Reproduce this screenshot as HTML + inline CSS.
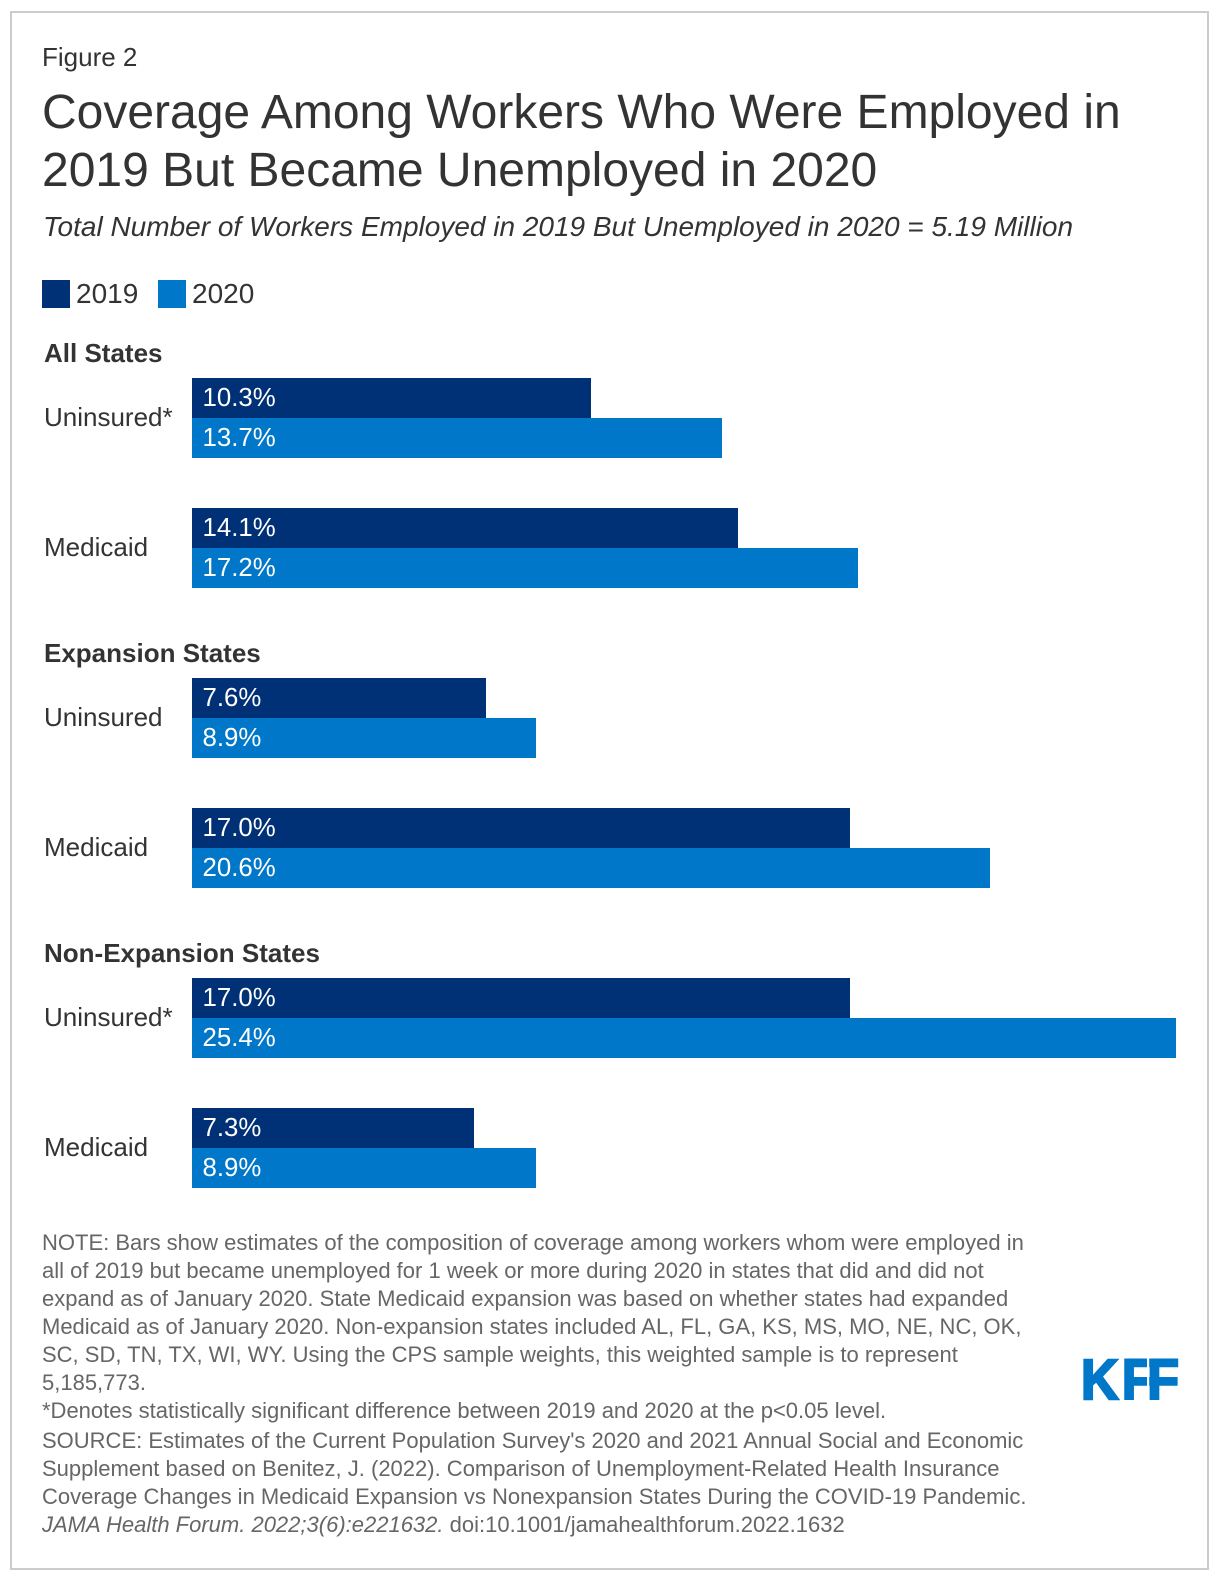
<!DOCTYPE html>
<html lang="en">
<head>
<meta charset="utf-8">
<title>Coverage Among Workers Who Were Employed in 2019 But Became Unemployed in 2020</title>
<style>
html,body{margin:0;padding:0;background:#fff;width:1220px;height:1582px;overflow:hidden}
svg{display:block}
text{font-family:"Liberation Sans",Arial,sans-serif}
.fn{font-size:22px;fill:#666}
</style>
</head>
<body>
<svg id="chart" xmlns="http://www.w3.org/2000/svg" width="1220" height="1582" viewBox="0 0 1220 1582">
  <rect x="11" y="12" width="1197" height="1557" fill="#fff" stroke="#ccc" stroke-width="2"/>
  <text x="42" y="66" font-size="26" fill="#333">Figure 2</text>
  <text x="42" y="128" font-size="48" fill="#333">Coverage Among Workers Who Were Employed in</text>
  <text x="42" y="186" font-size="48" fill="#333">2019 But Became Unemployed in 2020</text>
  <text x="43" y="236" font-size="28" font-style="italic" fill="#333">Total Number of Workers Employed in 2019 But Unemployed in 2020 = 5.19 Million</text>

  <g>
    <rect x="42" y="280" width="28" height="28" fill="#003075"/>
    <text x="76" y="303" font-size="28" fill="#333">2019</text>
    <rect x="158" y="280" width="28" height="28" fill="#0077c8"/>
    <text x="192" y="303" font-size="28" fill="#333">2020</text>
  </g>

  <g id="plot"></g>

  <g>
    <text class="fn" x="42" y="1250">NOTE: Bars show estimates of the composition of coverage among workers whom were employed in</text>
    <text class="fn" x="42" y="1278">all of 2019 but became unemployed for 1 week or more during 2020 in states that did and did not</text>
    <text class="fn" x="42" y="1306">expand as of January 2020. State Medicaid expansion was based on whether states had expanded</text>
    <text class="fn" x="42" y="1334">Medicaid as of January 2020. Non-expansion states included AL, FL, GA, KS, MS, MO, NE, NC, OK,</text>
    <text class="fn" x="42" y="1362">SC, SD, TN, TX, WI, WY. Using the CPS sample weights, this weighted sample is to represent</text>
    <text class="fn" x="42" y="1390">5,185,773.</text>
    <text class="fn" x="42" y="1418">*Denotes statistically significant difference between 2019 and 2020 at the p&lt;0.05 level.</text>
    <text class="fn" x="42" y="1448">SOURCE: Estimates of the Current Population Survey's 2020 and 2021 Annual Social and Economic</text>
    <text class="fn" x="42" y="1476">Supplement based on Benitez, J. (2022). Comparison of Unemployment-Related Health Insurance</text>
    <text class="fn" x="42" y="1504">Coverage Changes in Medicaid Expansion vs Nonexpansion States During the COVID-19 Pandemic.</text>
    <text class="fn" x="42" y="1532"><tspan font-style="italic">JAMA Health Forum. 2022;3(6):e221632.</tspan> doi:10.1001/jamahealthforum.2022.1632</text>
  </g>

  <g>
    <text transform="translate(1081 0) scale(.92 1)" x="0 44.5 72" y="1399" font-size="56.5" font-weight="bold" fill="#0077c8" stroke="#0077c8" stroke-width="2.4">KFF</text>
    <rect x="1147" y="1355" width="2.2" height="48" fill="#fff"/>
  </g>
</svg>

<script>
const groupNames = ["All States", "Expansion States", "Non-Expansion States"];
const rowNames = [
  ["Uninsured*", "Medicaid"],
  ["Uninsured", "Medicaid"],
  ["Uninsured*", "Medicaid"]
];
const values2019 = [10.3, 14.1, 7.6, 17.0, 17.0, 7.3];
const values2020 = [13.7, 17.2, 8.9, 20.6, 25.4, 8.9];

const plotLeft = 192;
const pxPerPercent = 38.75;
const barHeight = 40;
const firstBarTop = 378;
const groupStep = 300;
const rowStep = 130;
const colors = { y2019: "#003075", y2020: "#0077c8" };
const svgNS = "http://www.w3.org/2000/svg";
const plot = document.getElementById("plot");

function xScale(v) { return Math.floor(pxPerPercent * v); }
function rowTop(g, r) { return firstBarTop + g * groupStep + r * rowStep; }

function addText(parent, x, y, size, fill, content, weight) {
  const t = document.createElementNS(svgNS, "text");
  t.setAttribute("x", x);
  t.setAttribute("y", y);
  t.setAttribute("font-size", size);
  t.setAttribute("fill", fill);
  if (weight) t.setAttribute("font-weight", weight);
  t.textContent = content;
  parent.appendChild(t);
  return t;
}

function addBar(parent, top, value, fill) {
  const r = document.createElementNS(svgNS, "rect");
  r.setAttribute("x", plotLeft);
  r.setAttribute("y", top);
  r.setAttribute("width", xScale(value));
  r.setAttribute("height", barHeight);
  r.setAttribute("fill", fill);
  parent.appendChild(r);
  return r;
}

let idx = 0;
groupNames.forEach(function (name, g) {
  const head = addText(plot, 44, firstBarTop - 16 + g * groupStep, 26, "#333", name, "bold");
  
  

  rowNames[g].forEach(function (rowName, r) {
    const top = rowTop(g, r);
    const label = addText(plot, 44, top + 48, 26, "#333", rowName);
    
    

    const bar19 = addBar(plot, top, values2019[idx], colors.y2019);
    
    

    const bar20 = addBar(plot, top + barHeight, values2020[idx], colors.y2020);
    
    

    const v19 = addText(plot, plotLeft + 10.5, top + 28, 25.8, "#fff", values2019[idx].toFixed(1) + "%");
    
    

    const v20 = addText(plot, plotLeft + 10.5, top + barHeight + 28, 25.8, "#fff", values2020[idx].toFixed(1) + "%");
    
    

    idx += 1;
  });
});
</script>
</body>
</html>
